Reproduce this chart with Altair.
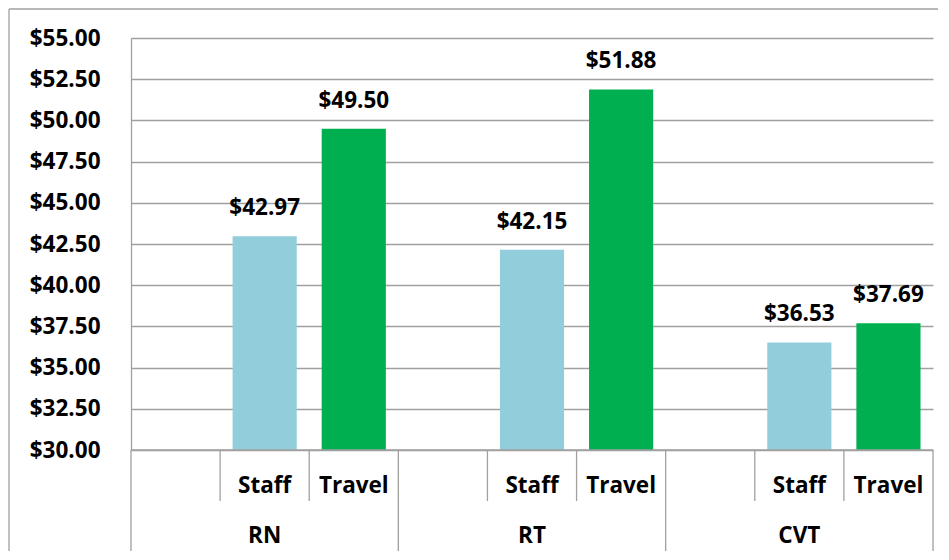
import altair as alt
import pandas as pd

groups = ["RN", "RT", "CVT"]
subs = ["Staff", "Travel"]
staff = [42.97, 42.15, 36.53]
travel = [49.50, 51.88, 37.69]
y_ticks = [30.0, 32.5, 35.0, 37.5, 40.0, 42.5, 45.0, 47.5, 50.0, 52.5, 55.0]

W, H = 802, 412
FONT = "Open Sans"
FS = 22.5
GRAY = "#A0A0A0"
colors = {"Staff": "#92CDDC", "Travel": "#00B050"}

slots = []
for g in groups:
    slots += [g + "|", g + "|Staff", g + "|Travel"]

rows = []
for i, g in enumerate(groups):
    rows.append({"slot": g + "|Staff", "group": g, "type": "Staff", "value": staff[i]})
    rows.append({"slot": g + "|Travel", "group": g, "type": "Travel", "value": travel[i]})
bars_df = pd.DataFrame(rows)

sub_df = pd.DataFrame([{"slot": g + "|" + s, "label": s} for g in groups for s in subs])
grp_df = pd.DataFrame([{"slot": g + "|Staff", "label": g} for g in groups])
grp_sep_df = pd.DataFrame([{"slot": g + "|"} for g in groups])
end_df = pd.DataFrame([{"slot": slots[-1]}])

xscale = alt.Scale(domain=slots, paddingInner=0, paddingOuter=0)


def X(bp=None):
    if bp is None:
        return alt.X("slot:N", sort=slots, scale=xscale, axis=None)
    return alt.X("slot:N", sort=slots, scale=xscale, axis=None, bandPosition=bp)


yscale = alt.Scale(domain=[30, 55], nice=False, zero=False)

bars = alt.Chart(bars_df).mark_bar(width=alt.RelativeBandSize(0.72)).encode(
    x=X(),
    y=alt.Y(
        "value:Q",
        scale=yscale,
        axis=alt.Axis(
            values=y_ticks,
            format="$.2f",
            title=None,
            grid=True,
            gridColor=GRAY,
            gridWidth=1.3,
            domainColor=GRAY,
            domainWidth=1.3,
            ticks=False,
            tickSize=0,
            labelPadding=31,
            labelFont=FONT,
            labelFontSize=FS,
            labelFontWeight="bold",
            labelColor="#000000",
        ),
    ),
    y2=alt.datum(30),
    color=alt.Color(
        "type:N",
        scale=alt.Scale(domain=list(colors.keys()), range=list(colors.values())),
        legend=None,
    ),
)

value_labels = alt.Chart(bars_df).mark_text(
    font=FONT, fontSize=FS, fontWeight="bold", color="#000000",
    baseline="alphabetic", dy=-21,
).encode(
    x=X(),
    y=alt.Y("value:Q", scale=yscale),
    text=alt.Text("value:Q", format="$.2f"),
)

sub_labels = alt.Chart(sub_df).mark_text(
    font=FONT, fontSize=FS, fontWeight="bold", color="#000000", baseline="alphabetic"
).encode(x=X(), y=alt.value(H + 43), text="label:N")

grp_labels = alt.Chart(grp_df).mark_text(
    font=FONT, fontSize=FS, fontWeight="bold", color="#000000", baseline="alphabetic"
).encode(x=X(), y=alt.value(H + 93), text="label:N")

sub_seps = alt.Chart(sub_df).mark_rule(color=GRAY, strokeWidth=1.3).encode(
    x=X(0), y=alt.value(H), y2=alt.value(H + 51)
)
grp_seps = alt.Chart(grp_sep_df).mark_rule(color=GRAY, strokeWidth=1.3).encode(
    x=X(0), y=alt.value(H), y2=alt.value(H + 101)
)
end_sep = alt.Chart(end_df).mark_rule(color=GRAY, strokeWidth=1.3).encode(
    x=X(1), y=alt.value(H), y2=alt.value(H + 101)
)
x_line = alt.Chart(end_df).mark_rule(color=GRAY, strokeWidth=1.3).encode(
    x=alt.value(0), x2=alt.value(W), y=alt.value(H)
)

border_left = alt.Chart(end_df).mark_rule(color=GRAY, strokeWidth=1.3).encode(
    x=alt.value(-122), y=alt.value(-29), y2=alt.value(H + 101)
)
border_top = alt.Chart(end_df).mark_rule(color=GRAY, strokeWidth=1.3).encode(
    x=alt.value(-122), x2=alt.value(W + 5), y=alt.value(-29)
)

chart = (
    alt.layer(
        bars, value_labels, sub_seps, grp_seps, end_sep, x_line,
        sub_labels, grp_labels, border_left, border_top,
    )
    .properties(width=W, height=H, padding=0, background="white")
    .configure_view(stroke=None)
)

chart.save("out.html", embed_options={"renderer": "svg", "actions": False})
